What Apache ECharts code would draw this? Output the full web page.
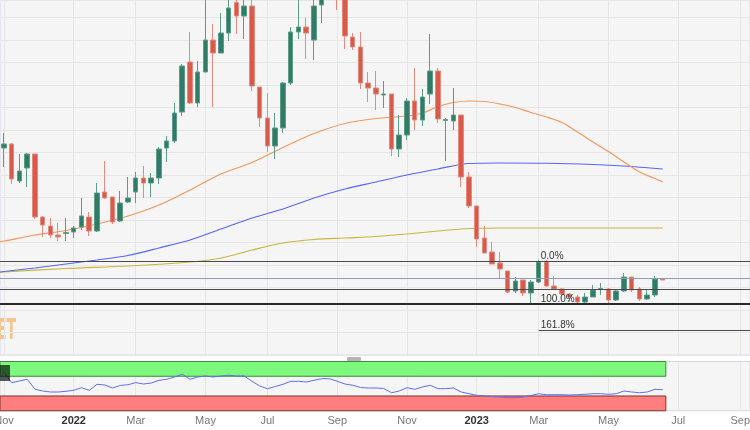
<!DOCTYPE html>
<html><head><meta charset="utf-8">
<script src="https://cdn.jsdelivr.net/npm/echarts@6/dist/echarts.min.js"></script>
<style>html,body{margin:0;padding:0;background:#ffffff}#c{width:750px;height:430px}</style>
</head><body><div id="c"></div><script>
// weekly candles (week start dates)
const weeks = ['2021-11-01','2021-11-08','2021-11-15','2021-11-22','2021-11-29','2021-12-06','2021-12-13','2021-12-20','2021-12-27',
'2022-01-03','2022-01-10','2022-01-17','2022-01-24','2022-01-31','2022-02-07','2022-02-14','2022-02-21','2022-02-28','2022-03-07','2022-03-14','2022-03-21','2022-03-28','2022-04-04','2022-04-11','2022-04-18','2022-04-25','2022-05-02','2022-05-09','2022-05-16','2022-05-23','2022-05-30','2022-06-06','2022-06-13','2022-06-20','2022-06-27','2022-07-04','2022-07-11','2022-07-18','2022-07-25','2022-08-01','2022-08-08','2022-08-15','2022-08-22','2022-08-29','2022-09-05','2022-09-12','2022-09-19','2022-09-26','2022-10-03','2022-10-10','2022-10-17','2022-10-24','2022-10-31','2022-11-07','2022-11-14','2022-11-21','2022-11-28','2022-12-05','2022-12-12','2022-12-19','2022-12-26',
'2023-01-02','2023-01-09','2023-01-16','2023-01-23','2023-01-30','2023-02-06','2023-02-13','2023-02-20','2023-02-27','2023-03-06','2023-03-13','2023-03-20','2023-03-27','2023-04-03','2023-04-10','2023-04-17','2023-04-24','2023-05-01','2023-05-08','2023-05-15','2023-05-22','2023-05-29','2023-06-05','2023-06-12','2023-06-19'];

// [open, close, low, high]
const ohlc = [
[140.4,141.2,136.6,143.4],[141.2,134.2,133.2,141.4],[133.8,135.8,133.4,139.2],[136.4,139.2,132.6,139.4],[139.2,126.6,126.2,139.2],
[126.6,125.0,122.6,126.8],[124.8,123.0,122.4,126.4],[123.0,122.6,121.8,125.4],[123.3,123.5,121.8,126.4],[123.6,124.4,122.4,124.8],
[124.6,126.8,124.0,130.4],[126.6,123.8,122.8,127.6],[123.8,131.4,123.6,133.4],[131.6,130.4,130.2,137.8],[130.6,125.6,125.2,130.6],
[125.8,129.4,125.6,131.8],[129.6,130.4,129.4,134.6],[131.6,134.4,129.4,135.6],[134.4,133.4,130.4,136.8],[133.4,134.4,130.6,135.4],
[134.4,140.2,133.2,140.6],[140.4,141.8,137.6,142.8],[141.8,147.4,141.4,149.4],[147.6,156.8,146.8,157.2],[157.6,149.4,149.2,163.6],
[149.4,155.6,148.6,157.8],[155.6,162.0,155.6,171.5],[162.0,159.4,148.6,165.2],[159.4,163.4,159.4,167.4],[163.4,168.4,161.8,171.0],
[169.5,166.8,163.2,171.5],[166.8,168.8,162.2,171.0],[168.8,152.8,151.8,171.0],[152.6,146.4,144.6,152.6],[146.4,140.8,139.6,151.4],
[140.8,144.4,138.2,147.4],[144.4,153.4,143.4,153.6],[153.4,163.6,153.0,164.6],[163.6,164.6,162.2,171.0],[164.6,163.4,158.2,166.4],
[162.0,168.8,158.0,172.0],[169.0,172.0,165.4,174.0],[172.0,174.5,171.0,176.0],[175.0,171.0,168.0,176.0],[171.0,162.8,160.2,172.0],
[162.6,160.6,160.0,163.4],[160.6,153.4,152.2,163.6],[153.4,152.4,149.6,155.6],[152.4,151.2,148.0,155.8],[151.0,151.2,148.4,153.8],
[151.2,140.2,138.8,151.2],[140.2,143.0,138.6,147.0],[143.0,149.8,142.0,150.4],[149.8,146.0,144.0,156.4],[146.0,150.6,144.8,152.2],
[151.2,155.8,149.2,163.2],[155.8,146.2,145.4,156.4],[145.9,146.1,137.8,146.4],[145.8,147.0,144.0,152.4],[147.0,134.6,132.6,147.0],
[134.6,128.8,128.4,135.6],[128.8,122.2,120.6,128.8],[122.4,119.4,119.4,124.8],[119.6,117.2,117.2,121.6],[117.4,116.2,114.4,119.6],
[115.8,111.6,111.4,115.8],[111.8,113.8,111.4,114.6],[114.0,111.4,110.8,114.0],[111.4,113.6,109.4,114.0],[113.6,117.6,113.4,118.0],
[117.6,112.8,112.6,118.0],[112.8,112.2,112.0,114.8],[112.2,111.2,110.6,112.4],[111.2,110.6,109.6,111.4],[110.6,109.6,109.4,111.0],
[109.6,110.6,109.2,111.4],[110.6,112.0,110.6,113.0],[112.1,112.3,111.0,113.4],[112.2,110.0,109.4,112.4],[110.0,111.8,109.8,112.2],
[111.8,114.6,111.6,115.4],[114.6,112.0,111.6,114.6],[112.2,110.2,109.8,112.6],[110.2,111.0,110.0,112.0],[111.0,114.2,110.6,114.8],
[114.2,114.0,114.0,114.2]];

// moving averages: [week index, value]
const maFast = [[-1,121.6],[0,121.8],[4,123.0],[8,123.9],[12,125.2],[16,126.8],[20,129.0],[24,132.0],[28,135.2],[32,137.5],[36,140.5],[40,143.3],[44,145.3],[48,146.3],[52,146.8],[54,147.4],[56,148.7],[58,149.5],[60,149.8],[62,149.7],[64,149.2],[66,148.5],[68,147.5],[70,146.6],[72,145.5],[74,143.6],[76,141.6],[78,139.7],[80,137.6],[82,135.6],[84,134.3],[85,133.6]];
const maMid = [[-1,115.5],[0,115.7],[4,116.4],[8,117.2],[12,118.0],[16,118.9],[20,120.4],[24,122.0],[28,124.2],[32,126.4],[36,128.2],[40,130.4],[44,132.2],[48,133.6],[52,135.0],[56,136.2],[60,137.3],[64,137.4],[70,137.35],[76,137.1],[80,136.8],[85,136.2]];
const maSlow = [[-1,115.5],[0,115.6],[8,116.3],[16,116.8],[24,117.6],[28,118.4],[32,120.0],[36,121.4],[40,122.1],[44,122.4],[48,122.7],[52,123.2],[56,123.8],[60,124.3],[64,124.4],[85,124.4]];

const rsi = [77.3,57.0,60.4,63.9,43.6,40.1,38.1,38.1,39.5,41.5,
46.8,41.5,53.7,52.3,46.2,51.3,52.9,57.0,54.3,56.3,
61.8,63.9,68.5,74.0,63.9,68.5,70.6,68.5,70.6,72.0,
70.6,70.6,59.8,50.3,44.8,49.2,53.7,59.8,59.8,58.4,
61.8,65.1,65.1,59.8,54.3,51.7,47.2,46.2,46.2,45.2,
36.6,40.1,46.8,43.6,48.2,51.7,44.8,44.8,46.2,38.1,
34.6,31.4,29.9,28.9,27.9,26.5,26.5,27.9,31.0,34.6,
32.6,32.6,32.6,32.0,32.6,33.4,34.6,34.6,33.4,34.6,
40.1,38.1,36.6,38.1,43.6,42.7];

const hLevels = [117.8, 114.26, 112.14, 109.2];
const fibLabels = ['0.0%','100.0%','161.8%'];
const fibValues = [117.8, 109.2, 103.9];
const fibAnchor = 69;
const monthTicks = [0,9,17,26,34,43,52,61,69,78,87,95];
const monthLabels = ['Nov','2022','Mar','May','Jul','Sep','Nov','2023','Mar','May','Jul','Sep'];
const X_MIN = -0.516, X_MAX = 96.26;

const chart = echarts.init(document.getElementById('c'), null, {renderer:'canvas'});
const labelOf = {};
monthTicks.forEach((t,k)=>labelOf[t]=monthLabels[k]);

const hStyles = [
  {color:'#4a4a4a', width:1},
  {color:'#8f9dbb', width:1},
  {color:'#4a4a4a', width:1},
  {color:'#2a2a2a', width:2}
];

const option = {
  animation:false,
  backgroundColor:'#ffffff',
  grid:[
    {left:0,right:0,top:0,height:355,outerBoundsMode:'none',containLabel:false,show:true,backgroundColor:'#f5f5f5',borderColor:'#d6dae3',borderWidth:1},
    {left:0,right:0,top:361.5,height:49.25,outerBoundsMode:'none',containLabel:false,show:true,backgroundColor:'#f5f5f5',borderColor:'#d6d6da',borderWidth:1}
  ],
  xAxis:[
    {type:'value',gridIndex:0,min:X_MIN,max:X_MAX,
     axisLine:{show:false},axisTick:{show:false,customValues:monthTicks},axisLabel:{show:false,customValues:monthTicks},
     splitLine:{show:true,lineStyle:{color:'#e6e6e6',width:1}}},
    {type:'value',gridIndex:1,min:X_MIN,max:X_MAX,
     axisLine:{show:false},axisTick:{show:false,customValues:monthTicks},
     axisLabel:{show:true,customValues:monthTicks,margin:5,hideOverlap:false,
       formatter:(v)=>{const s=labelOf[Math.round(v)]||''; return /^\d{4}$/.test(s)?'{y|'+s+'}':'{m|'+s+'}';},
       rich:{y:{fontFamily:'Liberation Sans',fontSize:11,fontWeight:'bold',color:'#333'},m:{fontFamily:'Liberation Sans',fontSize:11,color:'#777'}}},
     splitLine:{show:true,lineStyle:{color:'#e6e6e6',width:1}}}
  ],
  yAxis:[
    {type:'value',gridIndex:0,min:99,max:170,interval:4.5,axisLine:{show:false},axisTick:{show:false},axisLabel:{show:false},
     splitLine:{show:true,lineStyle:{color:'#e6e6e6',width:1}}},
    {type:'value',gridIndex:1,min:0,max:100,axisLine:{show:false},axisTick:{show:false},axisLabel:{show:false},splitLine:{show:false}}
  ],
  series:[
    {type:'line',xAxisIndex:0,yAxisIndex:0,data:maSlow,smooth:0.3,symbol:'none',lineStyle:{color:'#c8b63c',width:1.2},z:2},
    {type:'line',xAxisIndex:0,yAxisIndex:0,data:maMid,smooth:0.3,symbol:'none',lineStyle:{color:'#5468f6',width:1.2},z:2},
    {type:'line',xAxisIndex:0,yAxisIndex:0,data:maFast,smooth:0.3,symbol:'none',lineStyle:{color:'#f3975a',width:1.2},z:2},
    {type:'candlestick',xAxisIndex:0,yAxisIndex:0,clip:true,barWidth:5,z:3,
     dimensions:['i','open','close','low','high'],encode:{x:'i',y:['open','close','low','high']},
     data:ohlc.map((d,i)=>[i,d[0],d[1],d[2],d[3]]),
     itemStyle:{color:'#2f7d68',color0:'#d85a4a',borderColor:'#5c9c89',borderColor0:'#e38b7f',borderWidth:1},
     markLine:{silent:true,symbol:['none','none'],animation:false,
       data: hLevels.map((v,k)=>({yAxis:v,lineStyle:{color:hStyles[k].color,width:hStyles[k].width,type:'solid'},label:{show:false}}))
         .concat(fibValues.map((v,k)=>[
           {coord:[fibAnchor,v],lineStyle:{color:k===1?'#2a2a2a':'#4a4a4a',width:k===1?2:1,type:'solid'},
            label:{show:true,position:'insideStartTop',formatter:fibLabels[k],distance:[2,0],color:'#333',fontSize:10,fontFamily:'Liberation Sans'}},
           {coord:[X_MAX,v]}
         ]))
     }
    },
    {type:'line',xAxisIndex:1,yAxisIndex:1,data:rsi.map((v,i)=>[i,v]),symbol:'none',lineStyle:{color:'#5c70f2',width:1},z:3,
     markArea:{silent:true,data:[
       [{coord:[X_MIN,70],itemStyle:{color:'#7cf97c',borderColor:'#3d8b3d',borderWidth:1}},{coord:[rsi.length-1+0.4,100]}],
       [{coord:[X_MIN,0],itemStyle:{color:'#fe7e7e',borderColor:'#7a3434',borderWidth:1}},{coord:[rsi.length-1+0.4,30]}]
     ]}}
  ],
  graphic:[
    {type:'text',x:16,y:332,scaleX:0.5,silent:true,z:0,
     style:{text:'FXSTREET',font:'bold 28px "DejaVu Sans"',fill:'#f6c48e',textAlign:'right',textVerticalAlign:'middle'}},
    {type:'rect',shape:{x:0,y:365,width:10,height:16},style:{fill:'rgba(0,0,0,0.65)'},silent:true,z:10},
    {type:'rect',shape:{x:347,y:357,width:14,height:4,r:1},style:{fill:'#b5b5b5'},silent:true,z:10}
  ]
};
chart.setOption(option);
</script></body></html>
